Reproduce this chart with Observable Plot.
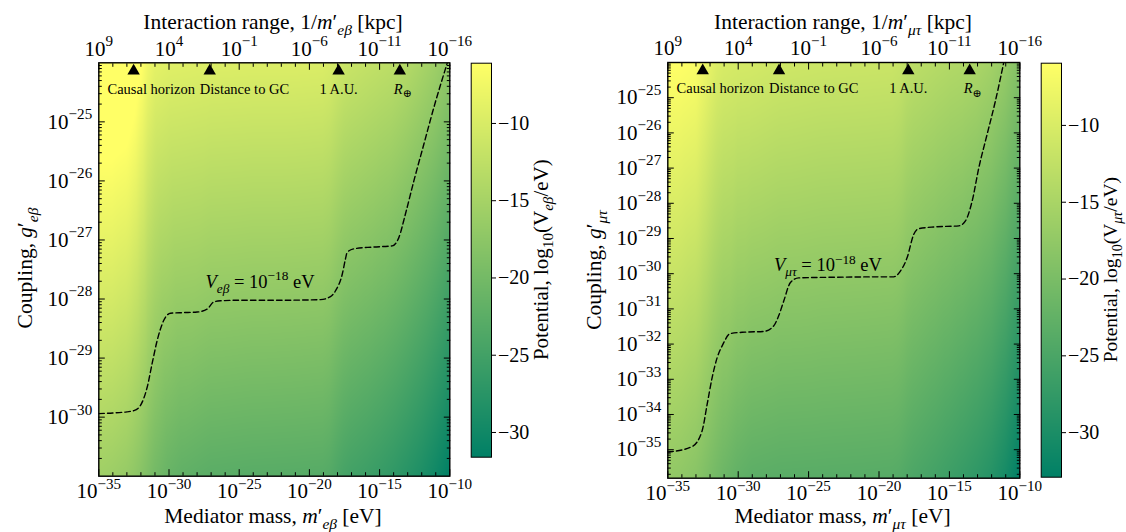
<!DOCTYPE html>
<html><head><meta charset="utf-8">
<script src="https://cdn.jsdelivr.net/npm/d3@7"></script>
<script src="https://cdn.jsdelivr.net/npm/@observablehq/plot@0.6"></script>
<style>
html,body{margin:0;padding:0;background:#fff;}
#wrap{position:relative;width:1126px;height:532px;overflow:hidden;}
#wrap svg{position:absolute;top:0;}
</style></head><body><div id="wrap"></div>
<script>
// ---------- data ----------
const massTicks = [-35, -30, -25, -20, -15, -10];          // log10 m' [eV] (bottom labels)
const rangeTicks = [9, 4, -1, -6, -11, -16];               // log10 1/m' [kpc] (top labels)
const rangeMassOffset = -26;                              // log10 m = offset - log10 r

const markerNames = ["Causal horizon", "Distance to GC", "1 A.U.", "R⊕"];
const markerLogM = [-32.52, -27.1, -17.92, -13.56];
const markerLabelLogM = [-34.38, -27.81, -17.92, -13.35];
const markerLabelAnchor = ["start", "start", "middle", "middle"];

// heat-map samples: log10 m' columns, log10 V at the top and bottom edges
const massCols = [-35,-34,-33,-32.5,-32,-31.5,-31,-30,-29,-27,-24,-21,-19,-18.5,-18,-17.5,-17,-16,-15,-14,-13,-12,-11,-10];
const ebTop    = [-3.0,-3.0,-3.4,-4.3,-5.8,-7.6,-8.7,-9.2,-9.3,-9.5,-9.6,-9.6,-9.7,-10.0,-10.7,-11.3,-11.6,-12.0,-12.4,-12.8,-13.6,-14.6,-15.7,-17.2];
const ebBottom = [-15.6,-16.0,-16.6,-17.2,-18.0,-19.0,-20.0,-21.3,-22.0,-22.6,-22.8,-22.9,-23.0,-23.3,-24.0,-24.6,-25.0,-25.5,-26.1,-26.8,-27.7,-28.7,-30.0,-31.6];
const mtTop    = [-5.95,-6.0,-6.4,-7.5,-8.6,-9.6,-10.1,-10.4,-10.5,-11.0,-11.3,-11.4,-11.5,-11.8,-12.6,-13.0,-13.2,-13.6,-14.0,-14.3,-14.8,-15.6,-17.0,-19.0];
const mtBottom = [-17.4,-17.8,-18.5,-19.2,-20.0,-20.8,-21.5,-22.6,-23.2,-23.5,-23.6,-23.7,-23.8,-24.0,-24.5,-24.9,-25.2,-25.8,-26.5,-27.2,-28.0,-29.0,-30.6,-32.9];
const ebYLog = [-31, -24];        // log10 g' range, e-beta panel
const mtYLog = [-35.81, -24];     // log10 g' range, mu-tau panel
const ebYTicks = [-30, -29, -28, -27, -26, -25];
const mtYTicks = [-35, -34, -33, -32, -31, -30, -29, -28, -27, -26, -25];
const ebColorDomain = [-31.6, -6.1];
const mtColorDomain = [-32.9, -5.95];
const colorTicks = [-30, -25, -20, -15, -10];

// V = 1e-18 eV contours
const ebContourLogM = [-35,-34,-33,-32.5,-32.03,-31.55,-31.2,-30.84,-30.37,-29.89,-29,-28,-27.28,-26.81,-26.33,-25,-22,-19.21,-18.5,-18.14,-17.66,-17.43,-17.31,-16.84,-15.5,-14.1,-13.63,-13.16,-12.56,-11.85,-11.14,-10.19];
const ebContourLogG = [-29.94,-29.93,-29.91,-29.89,-29.80,-29.49,-29.09,-28.70,-28.36,-28.24,-28.23,-28.22,-28.17,-28.05,-28.03,-28.02,-28.02,-28.01,-27.96,-27.86,-27.58,-27.32,-27.21,-27.15,-27.12,-27.10,-26.96,-26.56,-26.0,-25.38,-24.76,-24.01];
const mtContourLogM = [-35,-34.81,-33.27,-32.56,-32.20,-31.85,-31.49,-31.14,-30.55,-29.5,-28.18,-27.47,-27.12,-26.76,-26.29,-25.70,-23,-20,-18.95,-18.47,-18.00,-17.53,-17.17,-16,-14.33,-13.86,-13.38,-12.91,-12.32,-11.73,-11.14];
const mtContourLogG = [-35.07,-35.06,-34.91,-34.46,-33.70,-32.95,-32.38,-32.05,-31.70,-31.66,-31.64,-31.48,-31.19,-30.77,-30.25,-30.12,-30.10,-30.09,-30.09,-29.92,-29.54,-28.88,-28.72,-28.67,-28.64,-28.50,-27.93,-26.99,-26.04,-25.09,-24.0];
const ebLabelLog = [-23.48, -27.72];   // contour label position [log m, log g]
const mtLabelLog = [-23.59, -29.78];

// ---------- helpers ----------
const FONT = '"Liberation Serif", "DejaVu Serif", serif';
const FS = 21;        // tick labels
const FT = 21.5;      // axis titles
const MINUS = "\u2212";
const fmtExp = k => "10^" + (k < 0 ? MINUS + Math.abs(k) : String(k));
const summer = ["#008066", "#ffff66"];
const wrap = document.getElementById("wrap");

function supify(svg) {
  d3.select(svg).selectAll("text").each(function () {
    const m = /^10\^(.+)$/.exec(this.textContent);
    if (m) {
      const s = d3.select(this); s.text(null);
      s.append("tspan").text("10");
      s.append("tspan").attr("font-size", "0.72em").attr("dy", "-0.62em").text(m[1]);
    }
    if (this.textContent === "R⊕") {
      const s = d3.select(this); s.text(null);
      s.append("tspan").attr("font-style", "italic").text("R");
      s.append("tspan").attr("font-size", "0.75em").attr("dy", "0.3em").text("⊕");
    }
  });
}

function mathText(svg, {x, y, rotate = 0, anchor = "middle", size = FT, parts}) {
  const t = d3.select(svg).append("text")
    .attr("transform", `translate(${x},${y}) rotate(${rotate})`)
    .attr("text-anchor", anchor).attr("font-size", size)
    .attr("font-family", FONT).attr("fill", "#000");
  let shift = 0;
  for (const p of parts) {
    const [s, kind] = typeof p === "string" ? [p, ""] : p;
    const ts = t.append("tspan").text(s);
    let target = 0, fsz = size;
    if (kind.includes("sub")) { target = 0.27 * size; fsz = 0.72 * size; }
    if (kind.includes("sup")) { target = -0.42 * size; fsz = 0.72 * size; }
    if (kind.startsWith("i")) ts.attr("font-style", "italic");
    ts.attr("font-size", fsz);
    if (target !== shift) { ts.attr("dy", target - shift); shift = target; }
  }
}

function minorLog(lo, hi) {
  const out = [];
  for (let k = Math.floor(lo); k <= Math.ceil(hi); k++)
    for (let j = 2; j <= 9; j++) {
      const v = j * 10 ** k;
      if (Math.log10(v) > lo && Math.log10(v) < hi) out.push(v);
    }
  return out;
}

function panel(cfg) {
  const {left, mL, mR, mT, mB, yLog, yTicks, top, bottom, cLogM, cLogG, cDomain, labelLog, sub, titles} = cfg;
  const yDomain = [10 ** yLog[0], 10 ** yLog[1]];
  const samples = [];
  massCols.forEach((lm, i) => {
    samples.push({m: 10 ** lm, g: yDomain[1], v: top[i]});
    samples.push({m: 10 ** lm, g: yDomain[0], v: bottom[i]});
  });
  const contour = cLogM.map((lm, i) => ({m: 10 ** lm, g: 10 ** cLogG[i]}));
  const markers = markerNames.map((name, i) => ({name, m: 10 ** markerLogM[i], lm: 10 ** markerLabelLogM[i], anchor: markerLabelAnchor[i]}));
  const xMajor = massTicks.map(k => 10 ** k);
  const xMinor = d3.range(-35, -9).filter(k => !massTicks.includes(k)).map(k => 10 ** k);
  const topMajor = rangeTicks.map(r => 10 ** (rangeMassOffset - r));
  const topMinor = d3.range(-16, 10).filter(r => !rangeTicks.includes(r)).map(r => 10 ** (rangeMassOffset - r));
  const yMajor = yTicks.map(k => 10 ** k);
  const yMinor = minorLog(yLog[0], yLog[1]);
  const blank = () => "";
  const plot = Plot.plot({
    width: 470, height: 532, marginLeft: mL, marginRight: mR, marginTop: mT, marginBottom: mB,
    style: {fontFamily: FONT, fontSize: FS + "px", background: "transparent", overflow: "visible", color: "#000"},
    x: {type: "log", domain: [1e-35, 1e-10]},
    y: {type: "log", domain: yDomain},
    color: {type: "linear", domain: cDomain, range: summer, interpolate: "rgb", clamp: true},
    marks: [
      Plot.raster(samples, {x: "m", y: "g", fill: "v", interpolate: "barycentric",
        x1: 1e-35, x2: 1e-10, y1: yDomain[0], y2: yDomain[1], pixelSize: 1}),
      Plot.line(contour, {x: "m", y: "g", stroke: "#000", strokeWidth: 1.4, strokeDasharray: "5.5,3.2", curve: "monotone-x", clip: true}),
      Plot.dot(markers, {x: "m", frameAnchor: "top", dy: 8.1, symbol: "triangle", r: 4.6, fill: "#000", stroke: "none"}),
      Plot.text(markers.filter(d => d.anchor === "start"), {x: "lm", frameAnchor: "top", dy: 20.5, text: "name", textAnchor: "start", fontSize: 14.5, fill: "#000"}),
      Plot.text(markers.filter(d => d.anchor === "middle"), {x: "lm", frameAnchor: "top", dy: 20.5, text: "name", textAnchor: "middle", fontSize: 14.5, fill: "#000"}),
      Plot.axisX(xMajor, {anchor: "bottom", tickSize: -6.5, tickPadding: 13.6, tickFormat: d => fmtExp(Math.round(Math.log10(d))), label: null}),
      Plot.axisX(xMinor, {anchor: "bottom", tickSize: -3.5, tickFormat: blank, label: null}),
      Plot.axisX(topMajor, {anchor: "top", tickSize: -6.5, tickPadding: 13.8, tickFormat: d => fmtExp(Math.round(rangeMassOffset - Math.log10(d))), label: null}),
      Plot.axisX(topMinor, {anchor: "top", tickSize: -3.5, tickFormat: blank, label: null}),
      Plot.axisY(yMajor, {anchor: "left", tickSize: -6.5, tickPadding: 13.1, tickFormat: d => fmtExp(Math.round(Math.log10(d))), label: null}),
      Plot.axisY(yMinor, {anchor: "left", tickSize: -3.5, tickFormat: blank, label: null}),
      Plot.axisY(yMajor, {anchor: "right", tickSize: -6.5, tickFormat: blank, label: null}),
      Plot.axisY(yMinor, {anchor: "right", tickSize: -3.5, tickFormat: blank, label: null}),
      Plot.frame({stroke: "#000", strokeWidth: 1.4})
    ]
  });
  plot.style.left = left + "px";
  wrap.appendChild(plot);
  supify(plot);
  const sx = plot.scale("x"), sy = plot.scale("y");
  mathText(plot, {x: sx.apply(10 ** labelLog[0]), y: sy.apply(10 ** labelLog[1]) + 6, size: 18.5,
    parts: [["V", "i"], [sub, "isub"], " = 10", [MINUS + "18", "sup"], " eV"]});
  mathText(plot, {x: titles.topX, y: 29, parts: ["Interaction range, 1/", ["m", "i"], "′", [sub, "isub"], " [kpc]"]});
  mathText(plot, {x: titles.botX, y: titles.botY, parts: ["Mediator mass, ", ["m", "i"], "′", [sub, "isub"], " [eV]"]});
  mathText(plot, {x: titles.yX, y: titles.yY, rotate: -90, parts: ["Coupling, ", ["g", "i"], "′", [sub, "isub"]]});
}

function colorbar(cfg) {
  const {left, width, mR, mB, domain, sub, labelX, labelSize} = cfg;
  const plot = Plot.plot({
    width, height: 532, marginLeft: 10.7, marginRight: mR, marginTop: 62.7, marginBottom: mB,
    style: {fontFamily: FONT, fontSize: "20px", background: "transparent", overflow: "visible", color: "#000"},
    x: {domain: [0, 1], axis: null},
    y: {domain, axis: null},
    color: {type: "linear", domain, range: summer, interpolate: "rgb"},
    marks: [
      Plot.raster({fill: (x, y) => y, x1: 0, x2: 1, y1: domain[0], y2: domain[1], pixelSize: 1}),
      Plot.axisY(colorTicks, {anchor: "right", tickSize: 4, tickPadding: 2.5, tickFormat: d => MINUS + Math.abs(d), label: null}),
      Plot.frame({stroke: "#000", strokeWidth: 1})
    ]
  });
  plot.style.left = left + "px";
  wrap.appendChild(plot);
  const h = 532 - 62.7 - mB;
  mathText(plot, {x: labelX, y: 62.7 + h / 2, rotate: -90, size: labelSize,
    parts: ["Potential, log", ["10", "sub"], "(V", [sub, "isub"], "/eV)"]});
}

panel({left: 0, mL: 98.3, mR: 20.7, mT: 62.3, mB: 56.3, yLog: ebYLog, yTicks: ebYTicks, top: ebTop, bottom: ebBottom,
  cLogM: ebContourLogM, cLogG: ebContourLogG, cDomain: ebColorDomain, labelLog: ebLabelLog, sub: "eβ",
  titles: {topX: 273, botX: 273, botY: 523, yX: 32, yY: 268}});
panel({left: 560, mL: 107.3, mR: 10.7, mT: 62, mB: 54.3, yLog: mtYLog, yTicks: mtYTicks, top: mtTop, bottom: mtBottom,
  cLogM: mtContourLogM, cLogG: mtContourLogG, cDomain: mtColorDomain, labelLog: mtLabelLog, sub: "μτ",
  titles: {topX: 283, botX: 282.5, botY: 523, yX: 41, yY: 270}});
colorbar({left: 460, width: 110, mR: 79, mB: 75.3, domain: ebColorDomain, sub: "eβ", labelX: 87.5, labelSize: 21});
colorbar({left: 1030, width: 96, mR: 65, mB: 55.3, domain: mtColorDomain, sub: "μτ", labelX: 87, labelSize: 19.5});
</script></body></html>
